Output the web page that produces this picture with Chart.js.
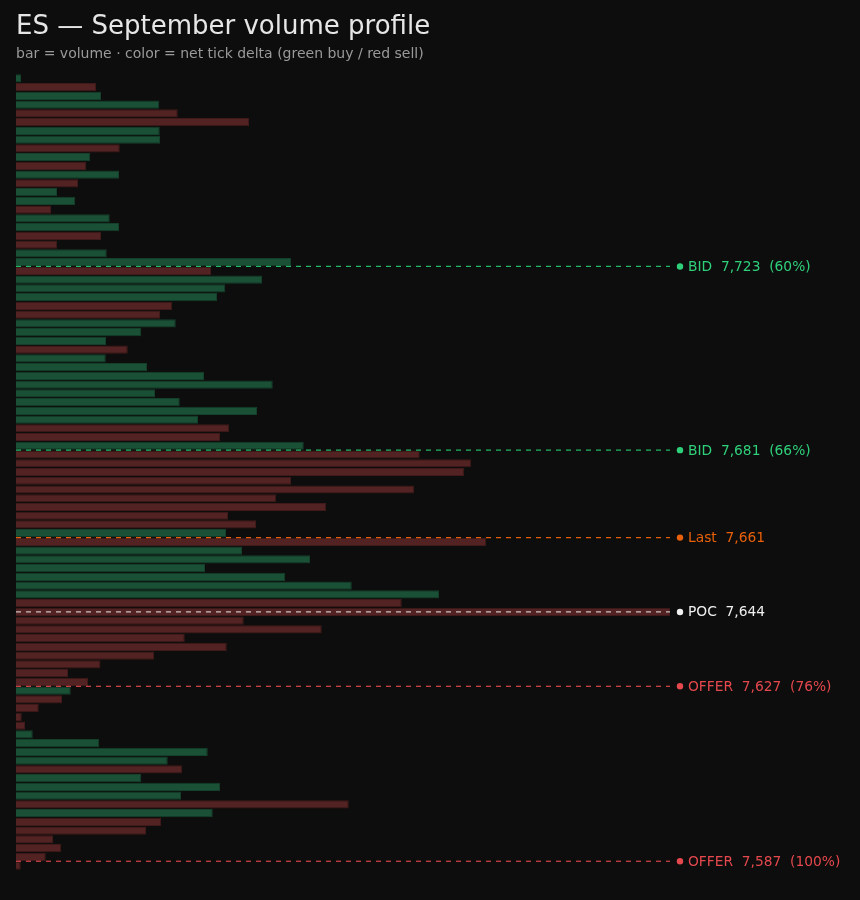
<!DOCTYPE html>
<html><head><meta charset="utf-8">
<script src="https://cdn.jsdelivr.net/npm/chart.js@4/dist/chart.umd.min.js"></script>
<style>html,body{margin:0;padding:0;background:#0d0d0d;} canvas{display:block;}</style>
</head><body>
<canvas id="c" width="860" height="900"></canvas>
<script>
const titleText = "ES — September volume profile";
const subtitleText = "bar = volume · color = net tick delta (green buy / red sell)";

// price levels (top to bottom)
const prices = [
  7766,7764,7762,7760,7758,7756,7754,7752,7750,7748,
  7746,7744,7742,7740,7738,7736,7734,7732,7730,7728,
  7726,7724,7722,7720,7718,7716,7714,7712,7710,7708,
  7706,7704,7702,7700,7698,7696,7694,7692,7690,7688,
  7686,7684,7682,7680,7678,7676,7674,7672,7670,7668,
  7666,7664,7662,7660,7658,7656,7654,7652,7650,7648,
  7646,7644,7642,7640,7638,7636,7634,7632,7630,7628,
  7626,7624,7622,7620,7618,7616,7614,7612,7610,7608,
  7606,7604,7602,7600,7598,7596,7594,7592,7590,7588,
  7586
];
// traded volume at each level
const volumes = [
  20,320,340,573,647,932,575,576,415,297,
  280,412,248,164,237,140,375,412,340,165,
  363,1100,780,984,837,804,625,576,639,501,
  360,447,359,524,752,1027,556,655,964,728,
  853,816,1151,1615,1821,1793,1100,1593,1041,1241,
  848,960,840,1881,904,1176,756,1077,1343,1692,
  1543,2616,911,1223,675,843,552,338,208,288,
  219,184,91,23,36,67,333,767,607,665,
  501,816,660,1331,787,580,520,148,181,119,
  19
];
// sign of net tick delta (+1 buy, -1 sell)
const deltaSign = [
  1,-1,1,1,-1,-1,1,1,-1,1,
  -1,1,-1,1,1,-1,1,1,-1,-1,
  1,1,-1,1,1,1,-1,-1,1,1,
  1,-1,1,1,1,1,1,1,1,1,
  -1,-1,1,-1,-1,-1,-1,-1,-1,-1,
  -1,-1,1,-1,1,1,1,1,1,1,
  -1,-1,-1,-1,-1,-1,-1,-1,-1,-1,
  1,-1,-1,-1,-1,1,1,1,1,-1,
  1,1,1,-1,1,-1,-1,-1,-1,-1,
  -1
];
// marked levels
const levelNames = ["BID", "BID", "Last", "POC", "OFFER", "OFFER"];
const levelPrices = [7723, 7681, 7661, 7644, 7627, 7587];
const levelPcts = ["60%", "66%", null, null, "76%", "100%"];

const FONT = '"DejaVu Sans", sans-serif';
const BAR_STYLE = {
  buy:  { fill: '#1a5036', border: '#143f2b' },
  sell: { fill: '#532222', border: '#401a1a' }
};
const LEVEL_STYLE = {
  BID:   { text: '#2fd07a', line: '#22b866' },
  Last:  { text: '#e8600a', line: '#e0600c' },
  POC:   { text: '#f0f0f0', line: 'rgba(235,235,235,0.8)' },
  OFFER: { text: '#e5484d', line: '#d8474b' }
};

const points = prices.map((p, i) => ({ x: volumes[i], y: p }));
const fills = deltaSign.map(s => s > 0 ? BAR_STYLE.buy.fill : BAR_STYLE.sell.fill);
const borders = deltaSign.map(s => s > 0 ? BAR_STYLE.buy.border : BAR_STYLE.sell.border);

const fmt = v => v.toLocaleString('en-US');

const decor = {
  id: 'decor',
  beforeDraw(chart) {
    const ctx = chart.ctx;
    ctx.save();
    ctx.fillStyle = '#0d0d0d';
    ctx.fillRect(0, 0, chart.width, chart.height);
    ctx.restore();
  },
  afterDatasetsDraw(chart) {
    const ctx = chart.ctx;
    const area = chart.chartArea;
    const ys = chart.scales.y;
    ctx.save();
    levelPrices.forEach((price, i) => {
      const st = LEVEL_STYLE[levelNames[i]];
      const y = ys.getPixelForValue(price);
      ctx.strokeStyle = st.line;
      ctx.lineWidth = 1.2;
      ctx.setLineDash([5, 5]);
      ctx.beginPath();
      ctx.moveTo(area.left, y);
      ctx.lineTo(area.right, y);
      ctx.stroke();
      ctx.setLineDash([]);
      ctx.fillStyle = st.text;
      ctx.beginPath();
      ctx.arc(area.right + 10, y, 3.2, 0, Math.PI * 2);
      ctx.fill();
      let label = levelNames[i] + '  ' + fmt(price);
      if (levelPcts[i]) label += '  (' + levelPcts[i] + ')';
      ctx.font = '13.8px ' + FONT;
      ctx.textBaseline = 'alphabetic';
      ctx.textAlign = 'left';
      ctx.fillText(label, area.right + 18, y + 4.5);
    });
    ctx.restore();
  },
  afterDraw(chart) {
    const ctx = chart.ctx;
    ctx.save();
    ctx.textBaseline = 'alphabetic';
    ctx.textAlign = 'left';
    ctx.fillStyle = '#e6e6e6';
    ctx.font = '26px ' + FONT;
    ctx.fillText(titleText, 16, 34);
    ctx.fillStyle = '#9a9a9a';
    ctx.font = '14px ' + FONT;
    ctx.fillText(subtitleText, 16, 58);
    ctx.restore();
  }
};

new Chart(document.getElementById('c'), {
  type: 'bar',
  data: {
    datasets: [{
      data: points,
      backgroundColor: fills,
      borderColor: borders,
      borderWidth: 1,
      categoryPercentage: 1,
      barPercentage: 0.94
    }]
  },
  options: {
    indexAxis: 'y',
    responsive: false,
    animation: false,
    layout: { padding: { left: 16, right: 190, top: 74, bottom: 30 } },
    scales: {
      x: { type: 'linear', display: false, offset: false, min: 0, max: Math.max(...volumes) },
      y: { type: 'linear', display: false, offset: false, min: 7585, max: 7767 }
    },
    plugins: { legend: { display: false }, tooltip: { enabled: false }, title: { display: false } }
  },
  plugins: [decor]
});
</script>
</body></html>
